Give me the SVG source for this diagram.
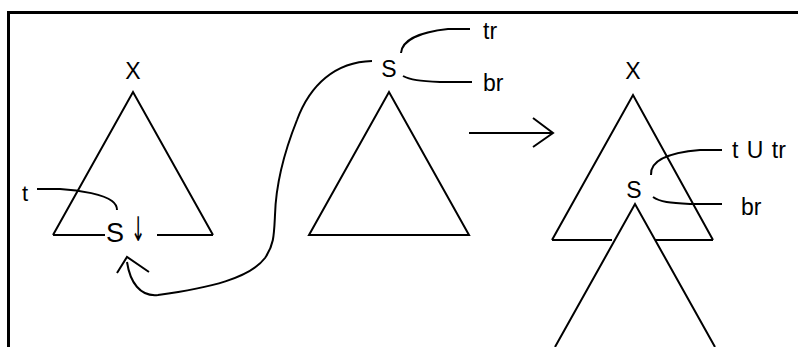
<svg xmlns="http://www.w3.org/2000/svg" width="798" height="347" viewBox="0 0 798 347">
<style>
.ln{fill:none;stroke:#000;stroke-width:2;stroke-linejoin:miter;stroke-linecap:butt}
.fr{fill:none;stroke:#000;stroke-width:3}
</style>
<rect width="798" height="347" fill="#fff"/>
<g id="frame">
<path class="fr" d="M7,12.5 H798 M8.5,11 V347"/>
</g>
<g font-family="'Liberation Sans', Arial, sans-serif" fill="#000">
<g id="left-tree">
<path class="ln" d="M53,235 L133,92 L213,235 M53,235 H105 M157,235 H213"/>
<text x="133" y="79" font-size="23" text-anchor="middle">X</text>
<text x="22" y="201" font-size="22">t</text>
<text x="106" y="242" font-size="27">S</text>
<text transform="translate(138,241) scale(0.5,1)" x="0" y="0" font-size="34" text-anchor="middle" font-family="'DejaVu Sans', sans-serif">↓</text>
<path class="ln" d="M37,189 L60,189 C82,190 104,195 112,201 C116,204 117,207 117,210"/>
</g>
<g id="subtree">
<path class="ln" d="M309,235 L389,92 L469,235 Z"/>
<text x="389" y="77" font-size="23" text-anchor="middle">S</text>
<text x="483" y="39" font-size="23">tr</text>
<text x="483" y="91" font-size="23">br</text>
<path class="ln" d="M401,53 C402,40 420,32 448,29 L470,29"/>
<path class="ln" d="M403,76 C410,80 420,81 440,82 L472,82"/>
</g>
<g id="right-tree">
<path class="ln" d="M552,240 L633,95 L713,240 M552,240 H612 M655,240 H713"/>
<path class="ln" d="M555,347 L635,204 L715,347"/>
<text x="633" y="79" font-size="23" text-anchor="middle">X</text>
<text x="634" y="198" font-size="23" text-anchor="middle">S</text>
<text x="732" y="158" font-size="23" word-spacing="2">t U tr</text>
<text x="741" y="215" font-size="23">br</text>
<path class="ln" d="M651,175 C650,162 665,153 700,150 L722,150"/>
<path class="ln" d="M653,197 C660,202 670,203 690,204 L722,204"/>
</g>
</g>
<g id="connectors">
<path class="ln" d="M372,61 C335,62 310,85 297,120 C285,150 276,180 275,215 C274,235 274,245 265,258 C250,278 210,288 158,295 C140,297 130,282 127,262"/>
<path class="ln" d="M117,273 L127,257 L149,272"/>
<path class="ln" d="M469,133 H553 M533,118 L553,133 L533,147"/>
</g>
</svg>
